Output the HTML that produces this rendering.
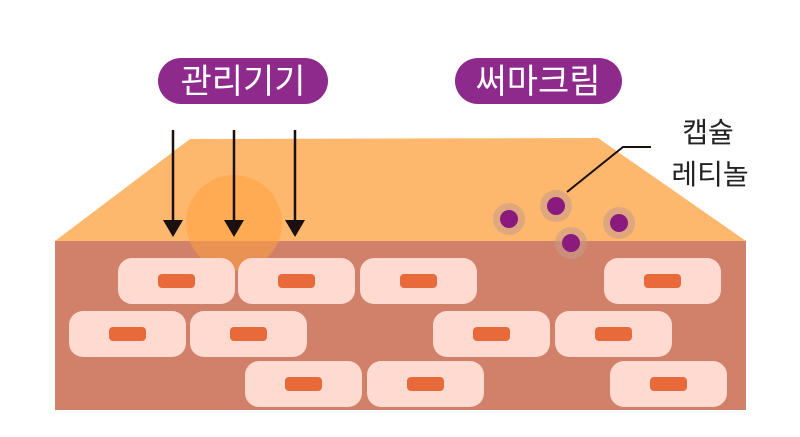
<!DOCTYPE html>
<html><head><meta charset="utf-8"><style>body{margin:0;background:#fff}svg{display:block}</style></head><body>
<svg width="800" height="437" viewBox="0 0 800 437" xmlns="http://www.w3.org/2000/svg" font-family="'Liberation Sans','Noto Sans CJK KR',sans-serif">
<polygon points="55,241 190,139 598,138 746,241" fill="#fdb86e"/>
<rect x="55" y="241" width="691" height="169" fill="#d1806a"/>
<circle cx="234" cy="223" r="48" fill="#ffa040" opacity="0.55"/>
<g fill="#fedad0">
<rect x="118" y="258" width="117" height="46" rx="14"/><rect x="238" y="258" width="117" height="46" rx="14"/><rect x="360" y="258" width="117" height="46" rx="14"/><rect x="604" y="258" width="117" height="46" rx="14"/>
<rect x="69" y="311" width="117" height="46" rx="14"/><rect x="190" y="311" width="117" height="46" rx="14"/><rect x="433" y="311" width="117" height="46" rx="14"/><rect x="555" y="311" width="117" height="46" rx="14"/>
<rect x="245" y="361" width="117" height="46" rx="14"/><rect x="367" y="361" width="117" height="46" rx="14"/><rect x="610" y="361" width="117" height="46" rx="14"/>
</g>
<g fill="#e8693a">
<rect x="158" y="274" width="37" height="14" rx="4"/><rect x="278" y="274" width="37" height="14" rx="4"/><rect x="400" y="274" width="37" height="14" rx="4"/><rect x="644" y="274" width="37" height="14" rx="4"/>
<rect x="109" y="327" width="37" height="14" rx="4"/><rect x="230" y="327" width="37" height="14" rx="4"/><rect x="473" y="327" width="37" height="14" rx="4"/><rect x="595" y="327" width="37" height="14" rx="4"/>
<rect x="285" y="377" width="37" height="14" rx="4"/><rect x="407" y="377" width="37" height="14" rx="4"/><rect x="650" y="377" width="37" height="14" rx="4"/>
</g>
<g stroke="#1a1010" stroke-width="2.5"><line x1="173" y1="130" x2="173" y2="222"/><line x1="234" y1="130" x2="234" y2="222"/><line x1="295" y1="130" x2="295" y2="222"/></g>
<g fill="#1a1010"><polygon points="163,220 183,220 173,237"/><polygon points="224,220 244,220 234,237"/><polygon points="285,220 305,220 295,237"/></g>
<rect x="158" y="58" width="170" height="46" rx="23" fill="#8e2a8c"/>
<text x="243" y="93" font-size="34" fill="#fff" text-anchor="middle">관리기기</text>
<rect x="455" y="58" width="167" height="46" rx="23" fill="#8e2a8c"/>
<text x="538" y="93" font-size="34" fill="#fff" text-anchor="middle">써마크림</text>
<polyline points="567,192 623,147 651,147" fill="none" stroke="#1a1010" stroke-width="2"/>
<g fill="#c79a8a" opacity="0.55"><circle cx="509" cy="219" r="16"/><circle cx="556" cy="206" r="16"/><circle cx="619" cy="223" r="16"/><circle cx="571" cy="243" r="16"/></g>
<g fill="#8b1a7f"><circle cx="509" cy="219" r="9"/><circle cx="556" cy="206" r="9"/><circle cx="619" cy="223" r="9"/><circle cx="571" cy="243" r="9"/></g>
<text x="708" y="142" font-size="28" fill="#222" text-anchor="middle">캡슐</text>
<text x="710" y="184" font-size="28" fill="#222" text-anchor="middle">레티놀</text>
</svg>
</body></html>
